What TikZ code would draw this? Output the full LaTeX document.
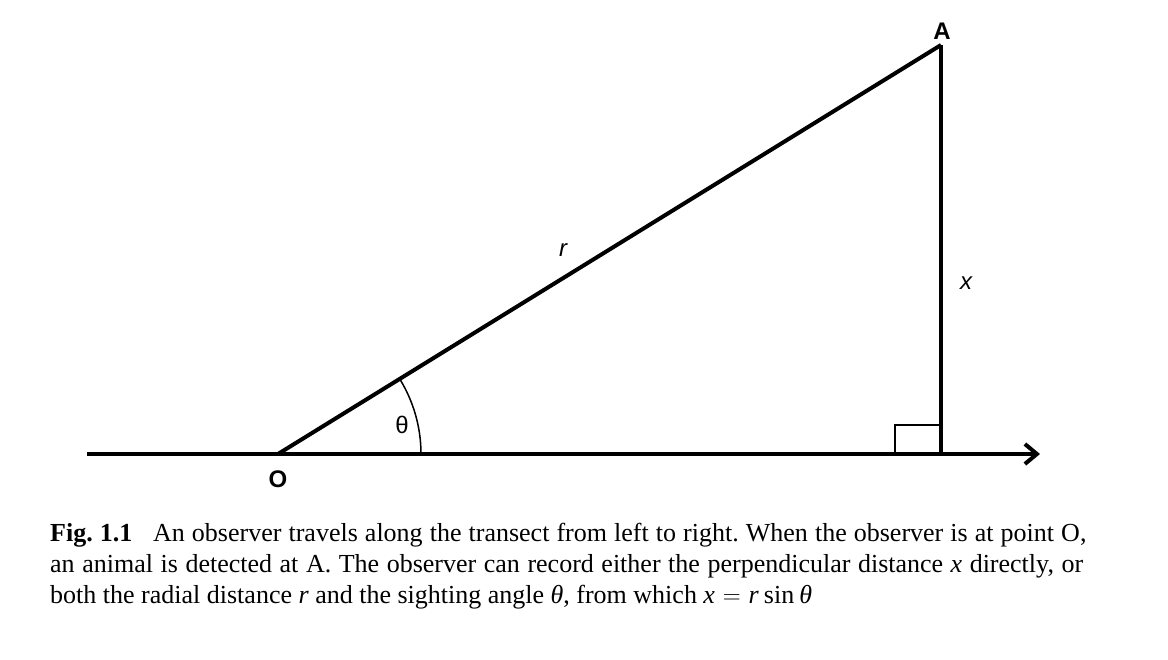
\documentclass[tikz,border=0pt]{standalone}
\usepackage{fontspec}
\setmainfont{Liberation Serif}
\newfontfamily\labelfont{Liberation Sans}
\usepackage{tikz}
\usetikzlibrary{calc}
\usetikzlibrary{arrows.meta}

\newcommand{\espacelegende}{\spaceskip=0.25em plus 0.3em minus 0.2em\relax}

\tikzset{
	thickline/.style={line width=4pt},
	thinline/.style={line width=1.5pt},
	lbl/.style={font=\labelfont\fontsize{24}{28}\selectfont, inner sep=0pt}
}

\begin{document}
\begin{tikzpicture}[x=1pt, y=-1pt]
	\useasboundingbox (0,0) rectangle (1168,660);

	\coordinate (debut) at (87,454);
	\coordinate (fin) at (1040,454);
	\coordinate (O) at (278,454);
	\coordinate (A) at (941,45);
	\coordinate (pied) at (941,454);

	\draw[thickline, -{Straight Barb[length=12pt, width=20pt]}] (debut) -- (fin);
	\draw[thickline] (O) -- (A);
	\draw[thickline] (A) -- (pied);

	\draw[thinline] ($(O)+(143,0)$) arc[start angle=0, end angle=-31.67, radius=143];
	\draw[thinline] ($(pied)+(-46,0)$) |- ($(pied)+(0,-29)$);

	\node[lbl, font=\labelfont\bfseries\fontsize{24}{28}\selectfont] (nomA) at (942,31) {A};
	\node[lbl, font=\labelfont\bfseries\fontsize{24}{28}\selectfont] (nomO) at (278,479) {O};
	\node[lbl] (nomr) at (563,250) {\itshape r};
	\node[lbl] (nomx) at (966,283) {\itshape x};
	\node[lbl] (nomtheta) at (402,425) {θ};

	\node[anchor=base west, inner sep=0pt, text width=1040pt,
		font=\fontsize{26}{31}\selectfont\frenchspacing] (legende) at (50,541)
		{\espacelegende\textbf{Fig. 1.1}\hspace{0.8em}An observer travels along the transect from left to right. When the observer is at point O,\linebreak
		an animal is detected at A. The observer can record either the perpendicular distance \textit{x} directly, or\linebreak
		both the radial distance \textit{r} and the sighting angle \textit{θ}, from which \textit{x}\hspace{0.3em}$=$\hspace{0.3em}\textit{r}\hspace{0.2em}sin\hspace{0.2em}\textit{θ}};
\end{tikzpicture}
\end{document}
